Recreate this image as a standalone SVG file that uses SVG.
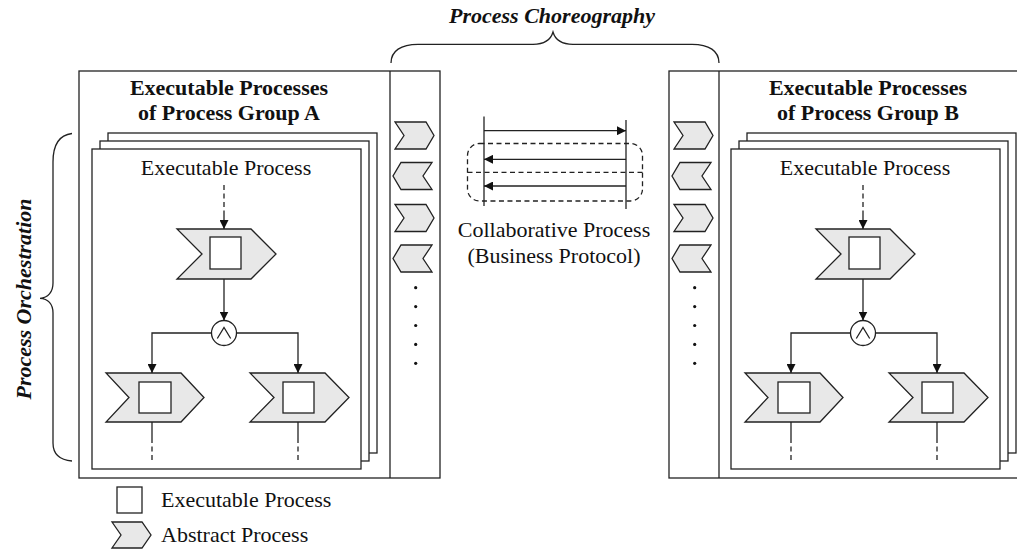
<svg xmlns="http://www.w3.org/2000/svg" width="1017" height="550" viewBox="0 0 1017 550">
  <style>
    .box { fill: #fff; stroke: #222; stroke-width: 1.3; }
    .ln { fill: none; stroke: #222; stroke-width: 1.3; }
    .dash { fill: none; stroke: #222; stroke-width: 1.3; stroke-dasharray: 5 3.5; }
    .chev { fill: #e8e8e8; stroke: #222; stroke-width: 1.3; stroke-linejoin: miter; }
    .sq { fill: #fff; stroke: #222; stroke-width: 1.3; }
    .dot { fill: #111; }
    text { font-family: "Liberation Serif", "Times New Roman", serif; fill: #111; font-size: 22px; }
    .title { font-weight: bold; text-anchor: middle; }
    .label { text-anchor: middle; }
    .bi { font-weight: bold; font-style: italic; text-anchor: middle; }
  </style>
  <defs>
    <marker id="arrow" markerUnits="userSpaceOnUse" markerWidth="10" markerHeight="9" refX="9" refY="4.5" orient="auto">
      <path d="M0,0 L9,4.5 L0,9 z" fill="#111"/>
    </marker>
    <!-- small chevrons used in the interface columns -->
    <polygon id="chevR" points="0,0 31,0 39,13.5 31,27 0,27 9,13.5" class="chev"/>
    <polygon id="chevL" points="8,0 39,0 30,13.5 39,27 8,27 0,13.5" class="chev"/>
    <!-- one executable process page: flow of abstract processes with an AND split -->
    <g id="procPage">
      <rect x="108" y="133" width="269" height="320" class="box"/>
      <rect x="100" y="141" width="269" height="320" class="box"/>
      <rect x="92" y="149" width="269" height="320" class="box"/>
      <text x="226" y="175" class="label">Executable Process</text>
      <polygon points="177,229 251,229 276,254 251,279 177,279 202,254" class="chev"/>
      <rect x="210" y="237" width="31" height="32" class="sq"/>
      <polygon points="106,373 181,373 204,397.5 181,422 106,422 129,397.5" class="chev"/>
      <rect x="139" y="382" width="32" height="31" class="sq"/>
      <polygon points="250,373 325,373 349,397.5 325,422 250,422 274,397.5" class="chev"/>
      <rect x="283" y="382" width="31" height="31" class="sq"/>
      <circle cx="224" cy="333" r="12.5" class="box"/>
      <path d="M217.3,338.5 L224,327.5 L230.7,338.5" class="ln" stroke-width="1.6"/>
      <g class="flow">
        <line x1="224" y1="185" x2="224" y2="212" class="dash"/>
        <line x1="224" y1="212" x2="224" y2="229" class="ln" marker-end="url(#arrow)"/>
        <line x1="224" y1="279" x2="224" y2="320.5" class="ln" marker-end="url(#arrow)"/>
        <path d="M211.5,333 H152 V373" class="ln" marker-end="url(#arrow)"/>
        <path d="M236.5,333 H298 V373" class="ln" marker-end="url(#arrow)"/>
        <line x1="152" y1="422" x2="152" y2="438" class="ln"/>
        <line x1="152" y1="438" x2="152" y2="461" class="dash"/>
        <line x1="298" y1="422" x2="298" y2="438" class="ln"/>
        <line x1="298" y1="438" x2="298" y2="461" class="dash"/>
      </g>
    </g>
    <!-- interface column: alternating send / receive chevrons and ellipsis dots -->
    <g id="ifaceChevs">
      <use href="#chevR" x="0" y="122"/>
      <use href="#chevL" x="-2" y="162.5"/>
      <use href="#chevR" x="0" y="204.5"/>
      <use href="#chevL" x="-2" y="245"/>
      <circle cx="20.7" cy="287.7" r="1.6" class="dot"/>
      <circle cx="20.7" cy="306.6" r="1.6" class="dot"/>
      <circle cx="20.7" cy="325.5" r="1.6" class="dot"/>
      <circle cx="20.7" cy="344.4" r="1.6" class="dot"/>
      <circle cx="20.7" cy="363.3" r="1.6" class="dot"/>
    </g>
  </defs>

  <!-- Process group A -->
  <g id="groupA">
    <rect x="79" y="71" width="361" height="407" class="box"/>
    <line x1="390" y1="71" x2="390" y2="478" class="ln"/>
    <text x="229" y="95" class="title">Executable Processes</text>
    <text x="229" y="120" class="title">of Process Group A</text>
    <use href="#procPage"/>
  </g>
  <g id="ifaceA">
    <use href="#ifaceChevs" x="395"/>
  </g>

  <!-- Process group B -->
  <g id="groupB">
    <rect x="669" y="71" width="361" height="407" class="box"/>
    <line x1="719" y1="71" x2="719" y2="478" class="ln"/>
    <text x="868" y="95" class="title">Executable Processes</text>
    <text x="868" y="120" class="title">of Process Group B</text>
    <use href="#procPage" x="639"/>
  </g>
  <g id="ifaceB">
    <use href="#ifaceChevs" x="674"/>
  </g>

  <!-- Collaborative process between the groups -->
  <g id="collab">
    <line x1="484" y1="116.5" x2="484" y2="206" class="ln"/>
    <line x1="626" y1="120" x2="626" y2="209" class="ln"/>
    <rect x="467.5" y="143.5" width="175" height="57.5" rx="12" ry="12" class="dash"/>
    <line x1="467.5" y1="172.3" x2="642.5" y2="172.3" class="dash"/>
    <text x="554" y="237" class="label">Collaborative Process</text>
    <text x="554" y="263" class="label">(Business Protocol)</text>
  </g>
  <g id="connectors">
    <line x1="484" y1="130.7" x2="626" y2="130.7" class="ln" marker-end="url(#arrow)"/>
    <line x1="626" y1="159.3" x2="484" y2="159.3" class="ln" marker-end="url(#arrow)"/>
    <line x1="626" y1="186" x2="484" y2="186" class="ln" marker-end="url(#arrow)"/>
  </g>

  <!-- Choreography brace -->
  <g id="choreography">
    <path d="M391,63 C391,51 401,44.3 418,44.3 L533,44.3 C545,44.3 551,39 553,32 C555,39 561,44.3 573,44.3 L692,44.3 C709,44.3 719,51 719,63" class="ln"/>
    <text x="552" y="23" class="bi">Process Choreography</text>
  </g>

  <!-- Orchestration brace -->
  <g id="orchestration">
    <path d="M72,133.5 C59,135 53,146 53,162 L53,283 C53,292 48,298 40,298.3 C48,298.6 53,304 53,313 L53,443 C53,454 60,460 72,461" class="ln"/>
    <text transform="translate(31,299) rotate(-90)" x="0" y="0" class="bi">Process Orchestration</text>
  </g>

  <!-- Legend -->
  <g id="legend">
    <rect x="117" y="487" width="25" height="26" class="sq"/>
    <text x="161" y="507">Executable Process</text>
    <polygon points="112,522 142,522 151,535 142,548 112,548 121,535" class="chev"/>
    <text x="161" y="542">Abstract Process</text>
  </g>
</svg>
